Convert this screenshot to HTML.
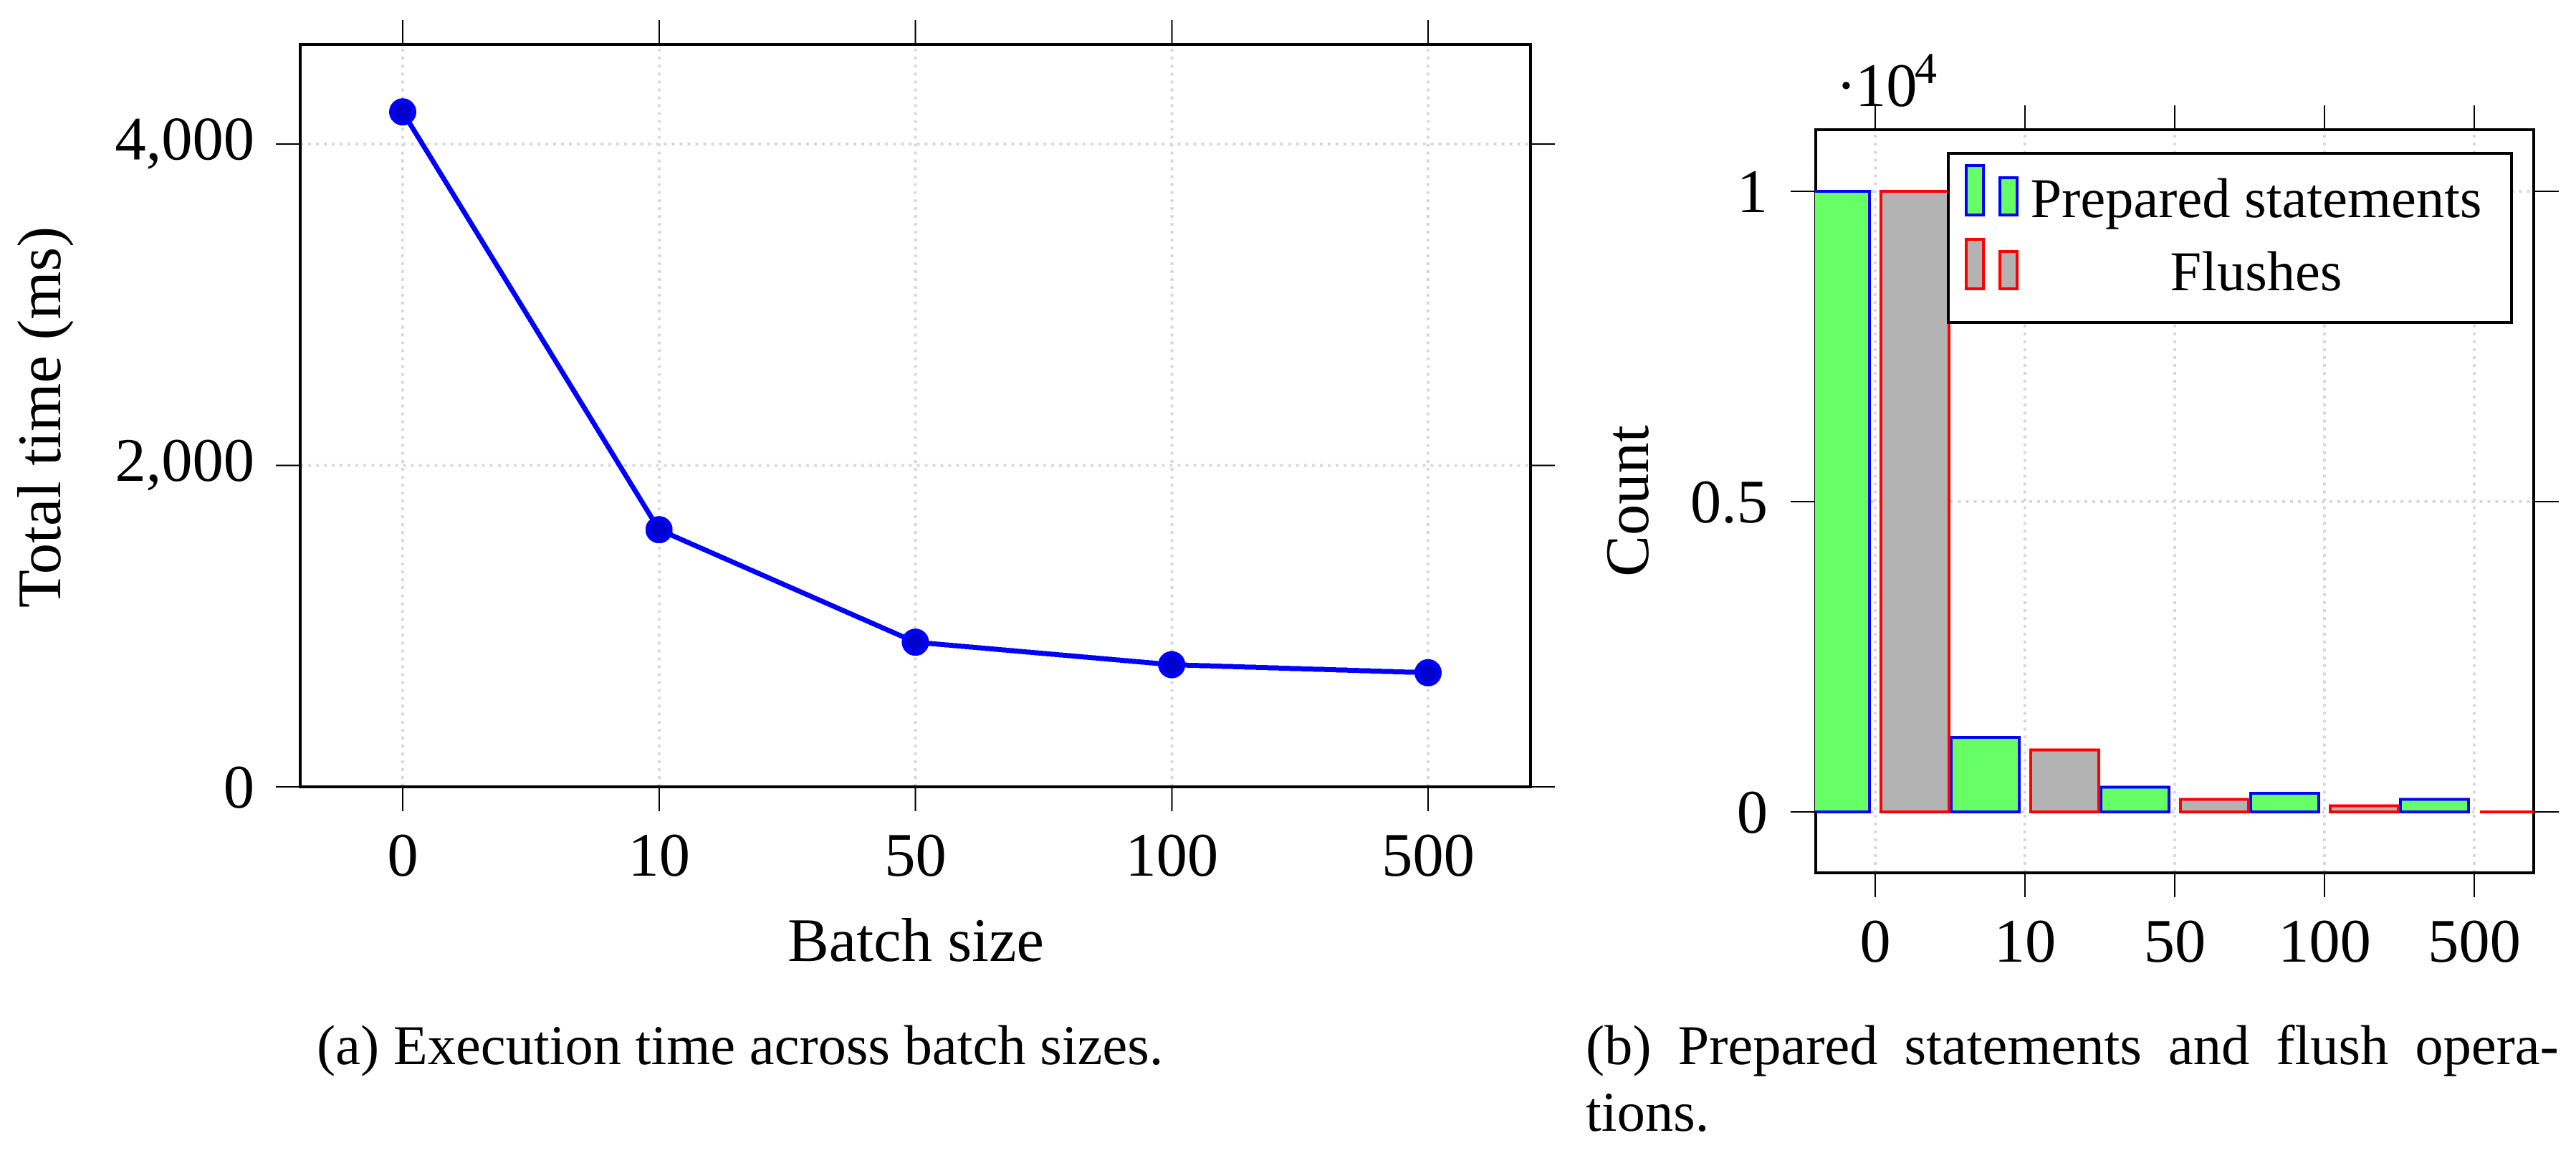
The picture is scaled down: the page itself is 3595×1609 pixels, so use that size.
<!DOCTYPE html>
<html lang="en">
<head>
<meta charset="utf-8">
<title>Execution time and prepared statements across batch sizes</title>
<style>
html,body{margin:0;padding:0;background:#fff}
svg{display:block;shape-rendering:crispEdges}
text{font-family:"Liberation Serif","Times New Roman",serif;fill:#000;text-rendering:geometricPrecision}
.tick-label{font-size:86.5px}
.axis-title{font-size:86.5px}
.caption{font-size:78.5px}
.legend-text{font-size:78.5px}
</style>
</head>
<body>
<svg xmlns="http://www.w3.org/2000/svg" width="3595" height="1609" viewBox="0 0 3595 1609">
  <defs>
    <clipPath id="bar-clip"><rect x="2533" y="0" width="1004" height="1609"/></clipPath>
  </defs>

  <g id="chart-a">
    <g id="a-grid"></g>
    <g id="a-ticks"></g>
    <g id="a-labels"></g>
    <rect x="419" y="62" width="1717" height="1036" fill="none" stroke="#000" stroke-width="4"/>
    <g id="a-series"></g>
    <text class="axis-title" transform="translate(84,582) rotate(-90)" text-anchor="middle">Total time (ms)</text>
    <text class="axis-title" x="1278" y="1341" text-anchor="middle">Batch size</text>
  </g>

  <g id="chart-b">
    <g id="b-grid"></g>
    <g id="b-ticks"></g>
    <g id="b-labels"></g>
    <rect x="2534" y="181" width="1002" height="1037" fill="none" stroke="#000" stroke-width="4"/>
    <g id="b-bars" clip-path="url(#bar-clip)"></g>
    <text class="tick-label" x="2562" y="148">·<tspan x="2589">10</tspan><tspan x="2672" y="116" font-size="62">4</tspan></text>
    <text class="axis-title" transform="translate(2300,699) rotate(-90)" text-anchor="middle">Count</text>

    <g>
      <rect x="2719" y="214" width="786" height="236" fill="#fff" stroke="#000" stroke-width="4"/>
      <g>
        <rect x="2744" y="231" width="24" height="69" fill="#66ff66" stroke="#0000ff" stroke-width="4"/>
        <rect x="2791" y="248" width="24" height="52" fill="#66ff66" stroke="#0000ff" stroke-width="4"/>
        <text class="legend-text" x="3148.5" y="303" text-anchor="middle">Prepared statements</text>
      </g>
      <g>
        <rect x="2744" y="334" width="24" height="69" fill="#b3b3b3" stroke="#ff0000" stroke-width="4"/>
        <rect x="2791" y="351" width="24" height="52" fill="#b3b3b3" stroke="#ff0000" stroke-width="4"/>
        <text class="legend-text" x="3148.5" y="405" text-anchor="middle">Flushes</text>
      </g>
    </g>
  </g>

  <text class="caption" x="442" y="1485">(a) Execution time across batch sizes.</text>
  <text class="caption" x="2213" y="1485" word-spacing="17.4">(b) Prepared statements and flush opera-</text>
  <text class="caption" x="2213" y="1578">tions.</text>
</svg>

<script>
// Shared categories
const batchSizes = ['0', '10', '50', '100', '500'];

// Chart (a) values
const totalTimeMs = [4200, 1600, 900, 760, 710];
const timeTickValues = [0, 2000, 4000];
const timeTickLabels = ['0', '2,000', '4,000'];

// Chart (b) values
const preparedStatements = [10000, 1200, 400, 300, 200];
const flushes = [10000, 1000, 200, 100, 0];
const countTickValues = [0, 5000, 10000];
const countTickLabels = ['0', '0.5', '1'];

const SVG_NS = 'http://www.w3.org/2000/svg';

function xA(i) { return 562 + i * 357.75; }
function yA(v) { return 1098 - v * 0.22425; }
function xB(i) { return 2617 + i * 209; }
function yB(v) { return 1133 - v * 0.0866; }

function make(tag, parent, attrs) {
  const el = document.createElementNS(SVG_NS, tag);
  for (const k in attrs) el.setAttribute(k, attrs[k]);
  parent.appendChild(el);
  return el;
}

function gridV(parent, x, yBottom, yTop) {
  const el = make('line', parent, { x1: x, y1: yBottom, x2: x, y2: yTop, stroke: '#d9d9d9', 'stroke-width': 4, 'stroke-dasharray': '4 7.03' });
  
  
}
function gridH(parent, y, xLeft, xRight) {
  const el = make('line', parent, { x1: xLeft, y1: y, x2: xRight, y2: y, stroke: '#d9d9d9', 'stroke-width': 4, 'stroke-dasharray': '4 7.03' });
  
  
}
function tick(parent, x1, y1, x2, y2) {
  const el = make('line', parent, { x1: x1, y1: y1, x2: x2, y2: y2, stroke: '#000', 'stroke-width': 2 });
  
  
}
function label(parent, x, y, anchor, str) {
  const el = make('text', parent, { x: x, y: y, 'text-anchor': anchor, class: 'tick-label' });
  el.textContent = str;
  
  
}

// ---- Chart (a) ----
const aGrid = document.getElementById('a-grid');
const aTicks = document.getElementById('a-ticks');
const aLabels = document.getElementById('a-labels');
const aSeries = document.getElementById('a-series');

batchSizes.forEach(function (name, i) {
  const x = xA(i);
  gridV(aGrid, x, 1098, 62);
  tick(aTicks, x, 28, x, 60);
  tick(aTicks, x, 1100, x, 1132);
  label(aLabels, x, 1222, 'middle', name);
});
timeTickValues.forEach(function (v, i) {
  const y = yA(v);
  gridH(aGrid, y, 419, 2136);
  tick(aTicks, 385, y, 417, y);
  tick(aTicks, 2138, y, 2170, y);
  const text = timeTickLabels[i];
  label(aLabels, 355, y + (text.indexOf(',') >= 0 ? 21.5 : 29), 'end', text);
});

const timeLine = make('polyline', aSeries, {
  points: totalTimeMs.map(function (v, i) { return xA(i) + ',' + yA(v); }).join(' '),
  fill: 'none', stroke: '#0000ff', 'stroke-width': 7, 'stroke-linejoin': 'round'
});



totalTimeMs.forEach(function (v, i) {
  const dot = make('circle', aSeries, { cx: xA(i), cy: yA(v), r: 15.5, fill: '#0000cc', stroke: '#0000ff', 'stroke-width': 7 });
  
  
});

// ---- Chart (b) ----
const bGrid = document.getElementById('b-grid');
const bTicks = document.getElementById('b-ticks');
const bLabels = document.getElementById('b-labels');
const bBars = document.getElementById('b-bars');

batchSizes.forEach(function (name, i) {
  const x = xB(i);
  gridV(bGrid, x, 1218, 181);
  tick(bTicks, x, 147, x, 179);
  tick(bTicks, x, 1220, x, 1252);
  label(bLabels, x, 1342, 'middle', name);
});
countTickValues.forEach(function (v, i) {
  const y = yB(v);
  gridH(bGrid, y, 2534, 3536);
  tick(bTicks, 2499, y, 2532, y);
  tick(bTicks, 3538, y, 3571, y);
  label(bLabels, 2467, y + 29, 'end', countTickLabels[i]);
});

function barPath(x0, x1, v) {
  const top = yB(v);
  const base = yB(0);
  return 'M' + x0 + ' ' + base + 'H' + x1 + 'V' + top + 'H' + x0 + 'Z';
}
preparedStatements.forEach(function (v, i) {
  const x = xB(i);
  const bar = make('path', bBars, { d: barPath(x - 103, x - 8, v), fill: '#66ff66', stroke: '#0000ff', 'stroke-width': 4 });
  
  
});
flushes.forEach(function (v, i) {
  const x = xB(i);
  const bar = make('path', bBars, { d: barPath(x + 8, x + 103, v), fill: '#b3b3b3', stroke: '#ff0000', 'stroke-width': 4 });
  
  
});
</script>
</body>
</html>
